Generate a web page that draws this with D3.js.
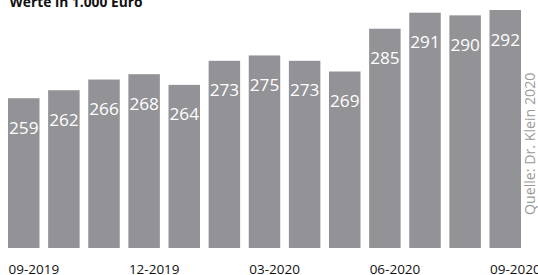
<!DOCTYPE html>
<html><head><meta charset="utf-8">
<script src="https://cdn.jsdelivr.net/npm/d3@7"></script>
<style>
html,body{margin:0;padding:0;background:#fff;}
svg{display:block;font-family:"Open Sans",sans-serif;}
</style></head>
<body>
<script>
const categories = ["09-2019","10-2019","11-2019","12-2019","01-2020","02-2020","03-2020","04-2020","05-2020","06-2020","07-2020","08-2020","09-2020"];
const values = [259,262,266,268,264,273,275,273,269,285,291,290,292];
const tickLabels = ["09-2019","12-2019","03-2020","06-2020","09-2020"];
const title = "Werte in 1.000 Euro";
const source = "Quelle: Dr. Klein 2020";

const W = 538, H = 275;
const svg = d3.select("body").append("svg").attr("width", W).attr("height", H);

const x = d3.scaleBand().domain(categories).range([8, 521]).paddingInner(0.215).paddingOuter(0);
const y = d3.scaleLinear().domain([203, 292]).range([248, 10]);

svg.append("text").attr("x", 9.5).attr("y", 7)
  .attr("font-size", 13.8).attr("font-weight", "bold").attr("fill", "#111")
  .text(title);

svg.selectAll("rect.bar").data(values).enter().append("rect")
  .attr("class", "bar")
  .attr("x", (d, i) => x(categories[i]))
  .attr("width", x.bandwidth())
  .attr("y", d => y(d))
  .attr("height", d => y.range()[0] - y(d))
  .attr("fill", "#939397");

svg.selectAll("text.val").data(values).enter().append("text")
  .attr("class", "val")
  .attr("x", (d, i) => x(categories[i]) + x.bandwidth() / 2)
  .attr("y", d => y(d) + 35.5)
  .attr("text-anchor", "middle")
  .attr("font-size", 17.2)
  .attr("fill", "#fff")
  .text(d => d);

const axis = d3.axisBottom(x).tickValues(tickLabels).tickSize(0).tickPadding(0);
const g = svg.append("g").attr("transform", "translate(0,262)").call(axis);
g.select(".domain").remove();
g.selectAll("text")
  .attr("text-anchor", "start")
  .attr("dy", 0).attr("y", 11.5)
  .attr("x", -x.bandwidth() / 2 + 0.5)
  .attr("font-size", 13.5)
  .attr("font-family", "\"Open Sans\",sans-serif")
  .attr("fill", "#111");

svg.append("text")
  .attr("transform", "translate(535,215) rotate(-90)")
  .attr("font-size", 14.2)
  .attr("fill", "#9a9a9a")
  .text(source);
</script>
</body></html>
